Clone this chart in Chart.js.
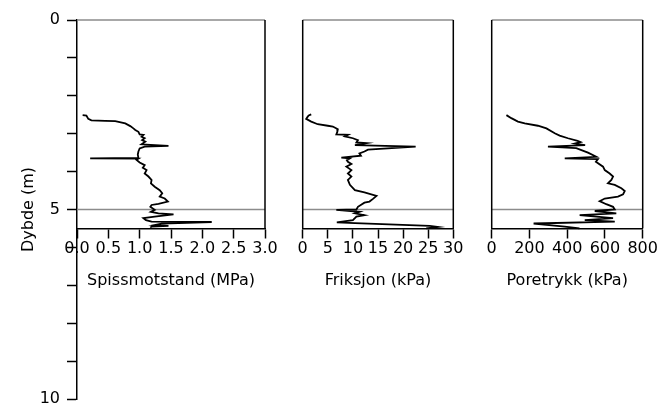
<!DOCTYPE html>
<html>
<head>
<meta charset="utf-8">
<script src="https://cdn.jsdelivr.net/npm/chart.js@4.4.0/dist/chart.umd.min.js"></script>
<style>
  body { margin: 0; background: #fff; }
  #wrap { position: relative; width: 662px; height: 406px; }
  #wrap canvas { position: absolute; left: 0; top: 0; }
</style>
</head>
<body>
<div id="wrap">
  <canvas id="qcChart" width="662" height="406"></canvas>
  <canvas id="fsChart" width="662" height="406"></canvas>
  <canvas id="u2Chart" width="662" height="406"></canvas>
</div>
<script>
// depth axis
var depthTicks = [0, 5, 10];
var panelBottom = 5.5;   // panels stop here
var markerDepth = 5;     // grey line

// Spissmotstand (MPa)
var qcDepth = [2.51, 2.52, 2.61, 2.65, 2.66, 2.67, 2.73, 2.80, 2.86, 2.90, 2.95, 3.02, 3.03, 3.08, 3.12, 3.17, 3.21, 3.28, 3.32, 3.34,
  3.39, 3.47, 3.55, 3.64, 3.65, 3.66, 3.69, 3.76, 3.83, 3.90, 3.96, 4.05, 4.13, 4.22, 4.31, 4.40, 4.49, 4.57, 4.66, 4.71,
  4.79, 4.85, 4.88, 4.93, 5.01, 5.06, 5.10, 5.13, 5.19, 5.23, 5.28, 5.32, 5.33, 5.37, 5.41, 5.43, 5.45, 5.48];
var qcValues = [0.09, 0.15, 0.18, 0.23, 0.45, 0.61, 0.77, 0.85, 0.90, 0.93, 0.98, 1.00, 1.06, 1.03, 1.08, 1.04, 1.09, 1.03, 1.46, 1.08,
  1.00, 0.98, 0.97, 0.98, 0.21, 0.98, 0.95, 1.00, 1.08, 1.05, 1.11, 1.08, 1.14, 1.19, 1.18, 1.24, 1.32, 1.36, 1.32, 1.40,
  1.45, 1.30, 1.19, 1.17, 1.24, 1.18, 1.30, 1.54, 1.24, 1.06, 1.10, 1.19, 2.15, 1.35, 1.24, 1.46, 1.19, 1.17];
var qcTicks = [0, 0.5, 1, 1.5, 2, 2.5, 3];

// Friksjon (kPa)
var fsDepth = [2.49, 2.52, 2.55, 2.61, 2.68, 2.75, 2.79, 2.81, 2.88, 2.95, 3.02, 3.03, 3.07, 3.12, 3.17, 3.23, 3.25, 3.30, 3.34, 3.42,
  3.47, 3.52, 3.58, 3.63, 3.65, 3.70, 3.74, 3.80, 3.87, 3.96, 4.05, 4.13, 4.22, 4.35, 4.49, 4.55, 4.64, 4.72, 4.79, 4.82,
  4.93, 5.00, 5.01, 5.06, 5.10, 5.15, 5.19, 5.28, 5.34, 5.36, 5.43, 5.46, 5.50];
var fsValues = [1.7, 1.2, 1.0, 0.7, 1.7, 3.0, 5.0, 6.0, 7.0, 6.9, 6.7, 9.0, 8.4, 10.0, 11.0, 10.7, 12.7, 10.4, 22.5, 13.0,
  12.3, 11.3, 11.6, 7.7, 9.4, 8.8, 9.0, 9.7, 8.7, 9.7, 9.0, 9.7, 9.0, 9.4, 10.4, 12.3, 14.7, 14.0, 13.3, 12.3,
  11.0, 10.7, 6.7, 11.3, 10.4, 12.3, 10.7, 10.0, 6.8, 10.4, 25.3, 27.0, 24.6];
var fsTicks = [0, 5, 10, 15, 20, 25, 30];

// Poretrykk (kPa)
var u2Depth = [2.51, 2.59, 2.68, 2.73, 2.79, 2.86, 2.99, 3.05, 3.12, 3.19, 3.22, 3.26, 3.30, 3.34, 3.38, 3.50, 3.61, 3.65, 3.67, 3.74,
  3.87, 3.96, 4.05, 4.13, 4.22, 4.31, 4.35, 4.44, 4.51, 4.60, 4.66, 4.71, 4.78, 4.86, 4.93, 5.00, 5.04, 5.10, 5.15, 5.23,
  5.28, 5.32, 5.37, 5.45, 5.50];
var u2Values = [78, 104, 139, 175, 245, 290, 334, 360, 404, 455, 470, 440, 495, 298, 448, 510, 554, 387, 563, 552,
  590, 599, 625, 643, 634, 616, 652, 687, 705, 696, 669, 599, 572, 607, 643, 652, 546, 660, 466, 643,
  493, 652, 222, 387, 465];
var u2Ticks = [0, 200, 400, 600, 800];

Chart.defaults.font.family = "'DejaVu Sans', sans-serif";
Chart.defaults.font.size = 16;
Chart.defaults.color = '#000';

function toPoints(depths, values) {
  return depths.map(function (d, i) { return { x: values[i], y: d }; });
}

// box round each panel + grey line at 5 m
var panelFrame = {
  id: 'panelFrame',
  beforeDatasetsDraw: function (chart, args, opts) {
    var ctx = chart.ctx;
    var area = chart.chartArea;
    var ys = chart.scales.y;
    var top = ys.getPixelForValue(0);
    var mid = ys.getPixelForValue(markerDepth);
    var bottom = ys.getPixelForValue(panelBottom);
    ctx.save();
    ctx.lineWidth = 1.5;
    ctx.strokeStyle = '#8c8c8c';
    ctx.beginPath();
    ctx.moveTo(area.left, top); ctx.lineTo(area.right, top);
    ctx.moveTo(area.left, mid); ctx.lineTo(area.right, mid);
    ctx.stroke();
    ctx.strokeStyle = '#000';
    ctx.beginPath();
    ctx.moveTo(area.right, top); ctx.lineTo(area.right, bottom);
    if (opts.leftEdge) {
      ctx.moveTo(area.left, top); ctx.lineTo(area.left, bottom);
    }
    ctx.stroke();
    ctx.restore();
  }
};

var axisGrid = { drawOnChartArea: false, drawTicks: true, tickLength: 9, tickWidth: 1.5, tickColor: '#000' };
var axisBorder = { display: true, color: '#000', width: 1.5 };

function makePanel(canvasId, points, xTicks, xMax, fmt, title, padding, first) {
  var yAxis = {
    display: first,
    min: 0,
    max: 10,
    reverse: true,
    grid: Object.assign({}, axisGrid, { tickLength: 10 }),
    border: axisBorder,
    ticks: {
      stepSize: 1,
      autoSkip: false,
      padding: 7,
      callback: function (v) { return depthTicks.indexOf(v) >= 0 ? v : ''; }
    },
    title: { display: true, text: 'Dybde (m)', padding: { top: 19, bottom: 0 } }
  };
  if (first) {
    // fixed width so the panel starts at x = 77
    yAxis.afterFit = function (s) {
      s.width = 77;
      s.paddingTop = 0;
      s.paddingBottom = 0;
    };
  }
  var xAxis = {
    type: 'linear',
    position: { y: panelBottom },
    min: 0,
    max: xMax,
    grid: axisGrid,
    border: axisBorder,
    afterBuildTicks: function (s) {
      s.ticks = xTicks.map(function (v) { return { value: v }; });
    },
    ticks: { autoSkip: false, maxRotation: 0, padding: 2, callback: fmt },
    title: { display: true, text: title, padding: { top: 11, bottom: 0 } }
  };
  return new Chart(document.getElementById(canvasId), {
    type: 'scatter',
    data: {
      datasets: [{
        data: points,
        showLine: true,
        borderColor: '#000',
        borderWidth: 1.8,
        pointRadius: 0,
        fill: false
      }]
    },
    options: {
      responsive: false,
      animation: false,
      devicePixelRatio: 1,
      layout: { padding: padding },
      scales: { x: xAxis, y: yAxis },
      plugins: {
        legend: { display: false },
        tooltip: { enabled: false },
        panelFrame: { leftEdge: !first }
      }
    },
    plugins: [panelFrame]
  });
}

makePanel('qcChart', toPoints(qcDepth, qcValues), qcTicks, 3,
  function (v) { return v.toFixed(1); }, 'Spissmotstand (MPa)',
  { left: 0, right: 397, top: 20, bottom: 7 }, true);

makePanel('fsChart', toPoints(fsDepth, fsValues), fsTicks, 30,
  function (v) { return v; }, 'Friksjon (kPa)',
  { left: 302.7, right: 208.7, top: 20, bottom: 7 }, false);

makePanel('u2Chart', toPoints(u2Depth, u2Values), u2Ticks, 800,
  function (v) { return v; }, 'Poretrykk (kPa)',
  { left: 491.7, right: 19.3, top: 20, bottom: 7 }, false);
</script>
</body>
</html>
